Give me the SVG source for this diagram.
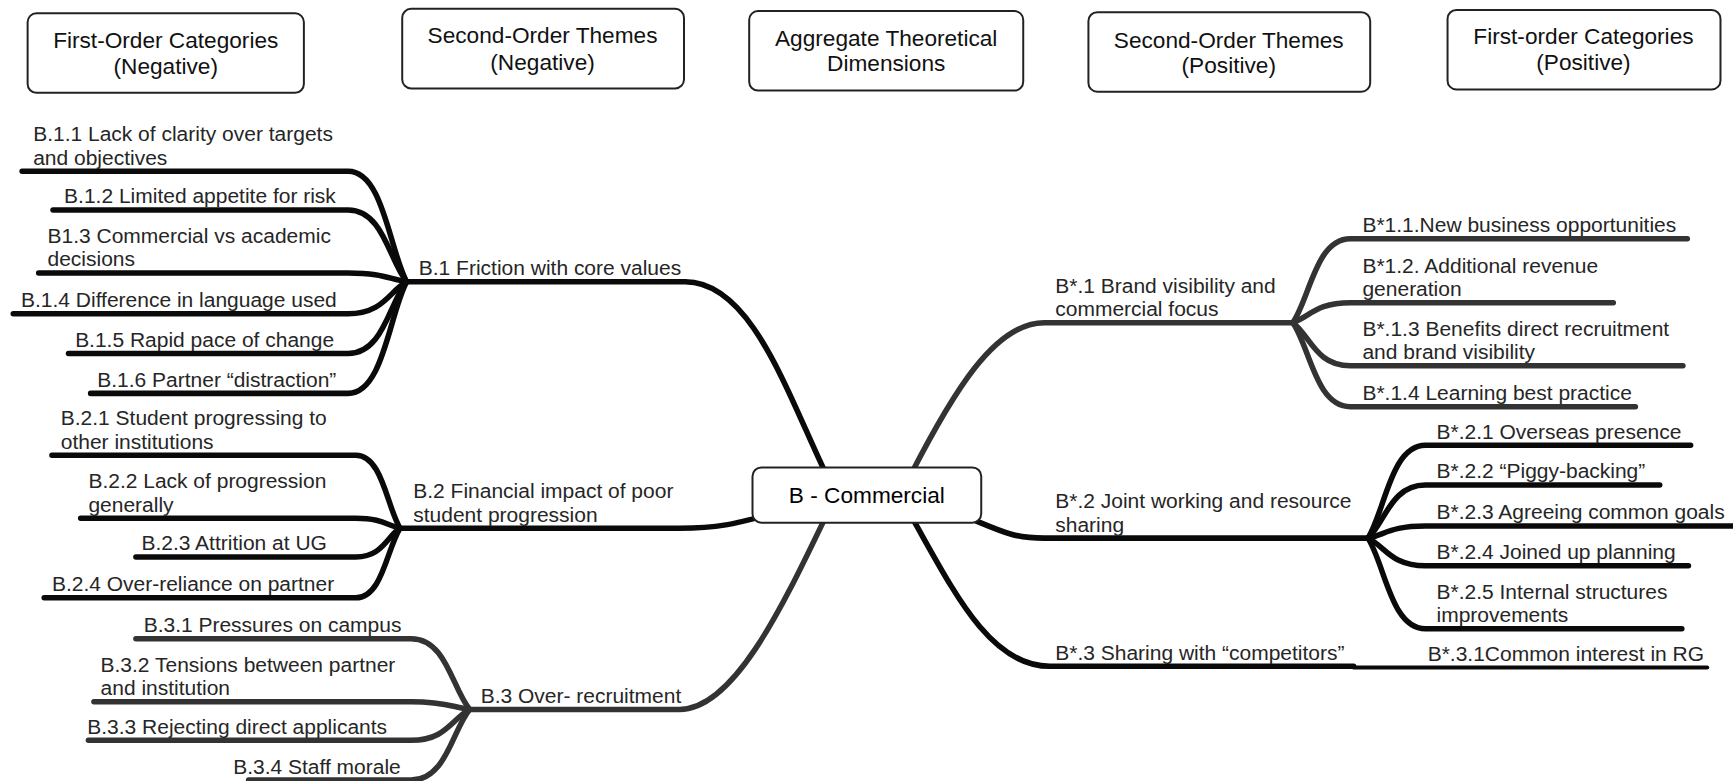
<svg xmlns="http://www.w3.org/2000/svg" width="1733" height="781" viewBox="0 0 1733 781">
  <style>
    .hdr rect { fill: #fff; stroke: #222; stroke-width: 1.8; }
    .hdr text { font-family: "Liberation Sans", Arial, sans-serif; font-size: 20.5px; fill: #111; text-anchor: middle; }
    .lbl { font-family: "Liberation Sans", Arial, sans-serif; font-size: 19px; fill: #262626; }
    .k { fill: none; stroke-linecap: round; stroke-linejoin: round; stroke-width: 5; }
    .dk { stroke: #0a0a0a; }
    .gr { stroke: #333; }
    .core rect { fill: #fff; stroke: #222; stroke-width: 1.8; }
    .core text { font-family: "Liberation Sans", Arial, sans-serif; font-size: 20.5px; fill: #000; text-anchor: middle; }
  </style>
  <rect width="1733" height="781" fill="#fff"/>
  <g transform="scale(1.105)">
    <!-- column headings -->
    <g id="hdr-first-neg" class="hdr">
      <rect x="25" y="12" width="250" height="72" rx="8"/>
      <text x="150" y="43">First-Order Categories</text>
      <text x="150" y="67">(Negative)</text>
    </g>
    <g id="hdr-second-neg" class="hdr">
      <rect x="364" y="8" width="255" height="72" rx="8"/>
      <text x="491" y="39">Second-Order Themes</text>
      <text x="491" y="63">(Negative)</text>
    </g>
    <g id="hdr-aggregate" class="hdr">
      <rect x="678" y="10" width="248" height="72" rx="8"/>
      <text x="802" y="42">Aggregate Theoretical</text>
      <text x="802" y="64">Dimensions</text>
    </g>
    <g id="hdr-second-pos" class="hdr">
      <rect x="985" y="11" width="255" height="72" rx="8"/>
      <text x="1112" y="43">Second-Order Themes</text>
      <text x="1112" y="66">(Positive)</text>
    </g>
    <g id="hdr-first-pos" class="hdr">
      <rect x="1310" y="9" width="247" height="72" rx="8"/>
      <text x="1433" y="40">First-order Categories</text>
      <text x="1433" y="63">(Positive)</text>
    </g>

    <!-- branches -->
    <g id="connectors">
      <!-- centre to second-order themes -->
      <path class="k dk" d="M368,255 H620 C680,255 712,355 748,430"/>
      <path class="k dk" d="M362,478 H615 C650,478 665,474 695,466"/>
      <path class="k gr" d="M425,642 H615 C665,642 710,545 748,466"/>
      <path class="k gr" d="M824,430 C862,356 900,292 945,292 H1170"/>
      <path class="k dk" d="M870,466 C905,480 915,487 945,487 H1238"/>
      <path class="k dk" d="M824,466 C862,533 895,603 950,603 H1225"/>
      <path class="k dk" style="stroke-width:3.6" d="M1225,604 H1545"/>

      <!-- B.1 fan -->
      <path class="k dk" d="M20,155 H315 C346.8,155 352.1,225 368,255"/>
      <path class="k dk" d="M48,190 H315 C346.8,190 352.1,235.5 368,255"/>
      <path class="k dk" d="M35,247 H315 C346.8,247 352.1,252.6 368,255"/>
      <path class="k dk" d="M12,284 H315 C346.8,284 352.1,263.7 368,255"/>
      <path class="k dk" d="M62,320 H315 C346.8,320 352.1,274.5 368,255"/>
      <path class="k dk" d="M82,356 H315 C346.8,356 352.1,285.3 368,255"/>

      <!-- B.2 fan -->
      <path class="k dk" d="M47,412 H322 C346,412 350,458.2 362,478"/>
      <path class="k dk" d="M73,469 H322 C346,469 350,475.3 362,478"/>
      <path class="k dk" d="M123,504 H322 C346,504 350,485.8 362,478"/>
      <path class="k dk" d="M40,541 H322 C346,541 350,496.9 362,478"/>

      <!-- B.3 fan -->
      <path class="k gr" d="M123,578 H372 C403.8,578 409.1,622.8 425,642"/>
      <path class="k gr" d="M85,635 H372 C403.8,635 409.1,639.9 425,642"/>
      <path class="k gr" d="M80,670 H372 C403.8,670 409.1,650.4 425,642"/>
      <path class="k gr" d="M225,706 H372 C403.8,706 409.1,661.2 425,642"/>

      <!-- B*.1 fan -->
      <path class="k gr" d="M1527,216 H1222 C1190.8,216 1185.6,269.2 1170,292"/>
      <path class="k gr" d="M1460,274 H1222 C1190.8,274 1185.6,286.6 1170,292"/>
      <path class="k gr" d="M1523,331 H1222 C1190.8,331 1185.6,303.7 1170,292"/>
      <path class="k gr" d="M1480,368 H1222 C1190.8,368 1185.6,314.8 1170,292"/>

      <!-- B*.2 fan -->
      <path class="k dk" d="M1530,403 H1290 C1258.8,403 1253.6,461.8 1238,487"/>
      <path class="k dk" d="M1502,439 H1290 C1258.8,439 1253.6,472.6 1238,487"/>
      <path class="k dk" d="M1580,476 H1290 C1258.8,476 1253.6,483.7 1238,487"/>
      <path class="k dk" d="M1528,512 H1290 C1258.8,512 1253.6,494.5 1238,487"/>
      <path class="k dk" d="M1522,569 H1290 C1258.8,569 1253.6,511.6 1238,487"/>
    </g>

    <!-- central dimension -->
    <g id="node-B" class="core">
      <rect x="681" y="423" width="207" height="50" rx="8"/>
      <text x="784.5" y="455">B - Commercial</text>
    </g>

    <!-- second-order themes (negative) -->
    <g id="node-B1"><text class="lbl" x="379" y="249">B.1 Friction with core values</text></g>
    <g id="node-B2"><text class="lbl" x="374" y="451">B.2 Financial impact of poor</text><text class="lbl" x="374" y="472">student progression</text></g>
    <g id="node-B3"><text class="lbl" x="435" y="636">B.3 Over- recruitment</text></g>

    <!-- first-order categories (negative) -->
    <g id="node-B11"><text class="lbl" x="30" y="128">B.1.1 Lack of clarity over targets</text><text class="lbl" x="30" y="149">and objectives</text></g>
    <g id="node-B12"><text class="lbl" x="58" y="184">B.1.2 Limited appetite for risk</text></g>
    <g id="node-B13"><text class="lbl" x="43" y="220">B1.3 Commercial vs academic</text><text class="lbl" x="43" y="241">decisions</text></g>
    <g id="node-B14"><text class="lbl" x="19" y="278">B.1.4 Difference in language used</text></g>
    <g id="node-B15"><text class="lbl" x="68" y="314">B.1.5 Rapid pace of change</text></g>
    <g id="node-B16"><text class="lbl" x="88" y="350">B.1.6 Partner “distraction”</text></g>

    <g id="node-B21"><text class="lbl" x="55" y="385">B.2.1 Student progressing to</text><text class="lbl" x="55" y="406">other institutions</text></g>
    <g id="node-B22"><text class="lbl" x="80" y="442">B.2.2 Lack of progression</text><text class="lbl" x="80" y="463">generally</text></g>
    <g id="node-B23"><text class="lbl" x="128" y="498">B.2.3 Attrition at UG</text></g>
    <g id="node-B24"><text class="lbl" x="47" y="535">B.2.4 Over-reliance on partner</text></g>

    <g id="node-B31"><text class="lbl" x="130" y="572">B.3.1 Pressures on campus</text></g>
    <g id="node-B32"><text class="lbl" x="91" y="608">B.3.2 Tensions between partner</text><text class="lbl" x="91" y="629">and institution</text></g>
    <g id="node-B33"><text class="lbl" x="79" y="664">B.3.3 Rejecting direct applicants</text></g>
    <g id="node-B34"><text class="lbl" x="211" y="700">B.3.4 Staff morale</text></g>

    <!-- second-order themes (positive) -->
    <g id="node-Bs1"><text class="lbl" x="955" y="265">B*.1 Brand visibility and</text><text class="lbl" x="955" y="286">commercial focus</text></g>
    <g id="node-Bs2"><text class="lbl" x="955" y="460">B*.2 Joint working and resource</text><text class="lbl" x="955" y="481">sharing</text></g>
    <g id="node-Bs3"><text class="lbl" x="955" y="597">B*.3 Sharing with “competitors”</text></g>

    <!-- first-order categories (positive) -->
    <g id="node-Bs11"><text class="lbl" x="1233" y="210">B*1.1.New business opportunities</text></g>
    <g id="node-Bs12"><text class="lbl" x="1233" y="247">B*1.2. Additional revenue</text><text class="lbl" x="1233" y="268">generation</text></g>
    <g id="node-Bs13"><text class="lbl" x="1233" y="304">B*.1.3 Benefits direct recruitment</text><text class="lbl" x="1233" y="325">and brand visibility</text></g>
    <g id="node-Bs14"><text class="lbl" x="1233" y="362">B*.1.4 Learning best practice</text></g>

    <g id="node-Bs21"><text class="lbl" x="1300" y="397">B*.2.1 Overseas presence</text></g>
    <g id="node-Bs22"><text class="lbl" x="1300" y="433">B*.2.2 “Piggy-backing”</text></g>
    <g id="node-Bs23"><text class="lbl" x="1300" y="470">B*.2.3 Agreeing common goals</text></g>
    <g id="node-Bs24"><text class="lbl" x="1300" y="506">B*.2.4 Joined up planning</text></g>
    <g id="node-Bs25"><text class="lbl" x="1300" y="542">B*.2.5 Internal structures</text><text class="lbl" x="1300" y="563">improvements</text></g>

    <g id="node-Bs31"><text class="lbl" x="1292" y="598">B*.3.1Common interest in RG</text></g>
  </g>
</svg>
